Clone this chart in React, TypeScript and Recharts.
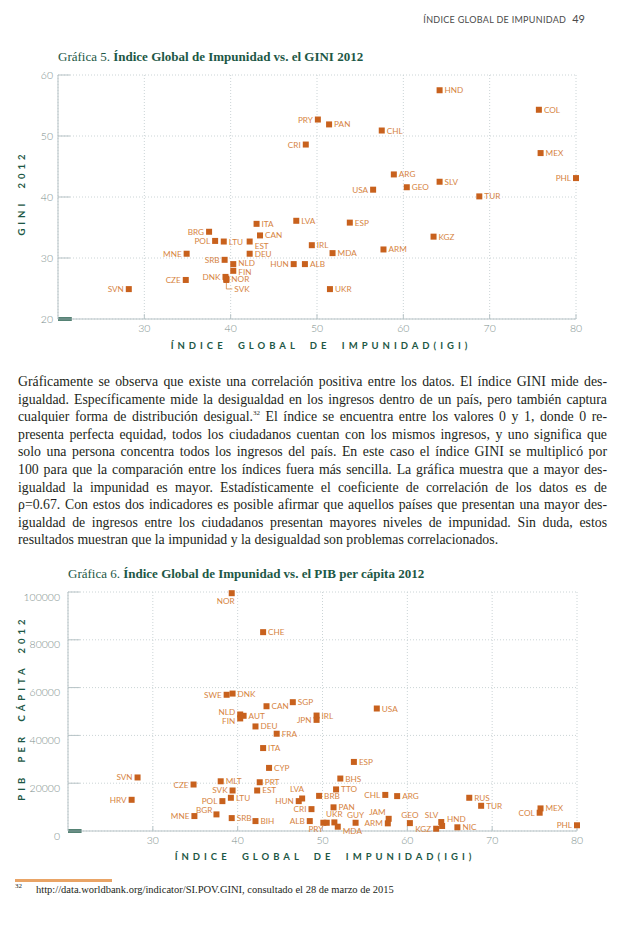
import React from "react";
import { ScatterChart, Scatter, XAxis, YAxis, CartesianGrid, ReferenceLine } from "recharts";

const GREEN = "#1d5846";
const ORANGE = "#c8611d";
const LABEL_ORANGE = "#d6843f";
const TICK_GRAY = "#7a8d8a";
const AXIS_GRAY = "#b7c3c6";
const GRID_GRAY = "#cbd4d6";

// Gráfica 5: IGI vs GINI 2012
const giniCodes = ["HND", "COL", "PRY", "PAN", "CHL", "CRI", "MEX", "PHL", "ARG", "SLV", "GEO", "USA", "TUR", "LVA", "ESP", "ITA", "BRG", "CAN", "KGZ", "POL", "LTU", "EST", "IRL", "ARM", "MDA", "MNE", "DEU", "SRB", "NLD", "HUN", "ALB", "FIN", "DNK", "NOR", "SVK", "CZE", "SVN", "UKR"];
const giniIgi = [64.2, 75.7, 50.1, 51.4, 57.5, 48.7, 75.9, 80.0, 58.9, 64.2, 60.4, 56.5, 68.8, 47.6, 53.8, 43.0, 37.5, 43.4, 63.5, 38.2, 39.2, 42.2, 49.4, 57.7, 51.8, 34.9, 42.2, 39.3, 40.3, 47.3, 48.6, 40.3, 39.4, 39.5, 39.5, 34.8, 28.2, 51.5];
const giniValues = [57.5, 54.3, 52.7, 51.9, 50.9, 48.6, 47.2, 43.1, 43.7, 42.5, 41.6, 41.2, 40.1, 36.1, 35.8, 35.6, 34.3, 33.7, 33.5, 32.8, 32.7, 32.7, 32.1, 31.4, 30.8, 30.7, 30.7, 29.7, 29.0, 29.0, 29.0, 27.9, 26.9, 26.6, 26.4, 26.4, 24.9, 24.9];
const giniXTicks = [30, 40, 50, 60, 70, 80];
const giniYTicks = [20, 30, 40, 50, 60];

// Gráfica 6: IGI vs PIB per cápita 2012
const pibCodes = ["NOR", "CHE", "DNK", "SWE", "SGP", "CAN", "USA", "NLD", "IRL", "AUT", "FIN", "JPN", "DEU", "FRA", "ITA", "ESP", "CYP", "SVN", "BHS", "MLT", "PRT", "CZE", "TTO", "SVK", "EST", "CHL", "BRB", "ARG", "RUS", "LTU", "LVA", "HRV", "POL", "HUN", "TUR", "PAN", "MEX", "CRI", "COL", "BGR", "MNE", "SRB", "JAM", "GUY", "UKR", "GEO", "SLV", "HND", "ALB", "BIH", "PRY", "", "MDA", "ARM", "KGZ", "NIC", "PHL"];
const pibIgi = [39.3, 43.0, 39.4, 38.7, 46.5, 43.4, 56.4, 40.3, 49.3, 40.7, 40.3, 49.3, 42.1, 44.6, 43.0, 53.7, 43.7, 28.2, 52.1, 38.0, 42.6, 34.8, 51.6, 39.4, 42.3, 57.4, 49.6, 58.8, 67.3, 39.2, 47.6, 27.5, 38.2, 47.2, 68.7, 51.3, 75.7, 48.7, 75.6, 37.5, 34.9, 39.3, 57.8, 53.9, 51.4, 60.3, 64.0, 64.1, 48.5, 42.1, 50.1, 50.5, 51.8, 57.7, 63.4, 65.9, 80.0];
const pibValues = [99500, 83200, 57500, 57000, 53900, 52200, 51250, 48750, 48300, 48200, 47100, 46500, 43750, 40700, 34700, 28900, 26400, 22400, 21950, 20800, 20400, 19450, 17400, 16950, 16950, 15100, 14700, 14600, 13900, 13900, 13600, 13050, 12500, 12500, 10550, 9900, 9450, 9150, 7650, 6950, 6250, 5400, 5100, 3450, 3600, 3300, 3750, 2100, 4150, 4150, 3450, 3450, 1800, 3200, 950, 1550, 2400];
const pibXTicks = [30, 40, 50, 60, 70, 80];
const pibYTicks = [0, 20000, 40000, 60000, 80000, 100000];

// where each country label sits relative to its marker (default: right)
const giniLabelSide: Record<string, string> = {
  PRY: "l", CRI: "l", PHL: "l", USA: "l", BRG: "l", POL: "l", MNE: "l", SRB: "l",
  HUN: "l", DNK: "l", CZE: "l", SVN: "l", EST: "rb", SVK: "leader", NLD: "ru", FIN: "rd",
};
const pibLabelSide: Record<string, string> = {
  NOR: "bl", SWE: "l", NLD: "lu", FIN: "lb", JPN: "l", SVN: "l", CZE: "l", SVK: "l",
  CHL: "l", LVA: "al2", HRV: "l", POL: "l", HUN: "l", CRI: "l", COL: "l", BGR: "al3",
  MNE: "l", JAM: "al", GUY: "a", UKR: "a", GEO: "a", SLV: "al", HND: "ar", ALB: "l",
  PRY: "bl2", MDA: "rb", ARM: "l", KGZ: "l", PHL: "l",
};

const giniData = giniCodes.map((code, i) => ({ code, igi: giniIgi[i], value: giniValues[i] }));
const pibData = pibCodes.map((code, i) => ({ code, igi: pibIgi[i], value: pibValues[i] }));

const labelPlacement = (side: string) => {
  switch (side) {
    case "l": return { dx: -5, dy: 3, anchor: "end" };
    case "lu": return { dx: -5, dy: 1, anchor: "end" };
    case "lb": return { dx: -5, dy: 6, anchor: "end" };
    case "ru": return { dx: 5, dy: 2, anchor: "start" };
    case "rd": return { dx: 5, dy: 4, anchor: "start" };
    case "rb": return { dx: 5, dy: 7, anchor: "start" };
    case "a": return { dx: 0, dy: -5, anchor: "middle" };
    case "al": return { dx: -3, dy: -4, anchor: "end" };
    case "al2": return { dx: 2, dy: -6, anchor: "end" };
    case "al3": return { dx: -4, dy: -1, anchor: "end" };
    case "ar": return { dx: 5, dy: -4, anchor: "start" };
    case "bl": return { dx: 3, dy: 11, anchor: "end" };
    case "bl2": return { dx: 0, dy: 9, anchor: "end" };
    default: return { dx: 5, dy: 3, anchor: "start" };
  }
};

const makeMarker = (sides: Record<string, string>) => (props: any) => {
  const { cx, cy, payload } = props;
  const side = sides[payload.code] || "r";
  const textStyle = { fontSize: 8.2, fill: LABEL_ORANGE, fontFamily: "Lato, 'Open Sans', sans-serif" };
  if (side === "leader") {
    return (
      <g>
        <rect x={cx - 3} y={cy - 3} width={6} height={6} fill={ORANGE} />
        <path d={`M${cx},${cy + 3} L${cx},${cy + 9} L${cx + 6},${cy + 9}`} stroke={LABEL_ORANGE} strokeWidth={0.8} fill="none" />
        <text x={cx + 8} y={cy + 12} style={textStyle}>{payload.code}</text>
      </g>
    );
  }
  const p = labelPlacement(side);
  return (
    <g>
      <rect x={cx - 3} y={cy - 3} width={6} height={6} fill={ORANGE} />
      {payload.code ? (
        <text x={cx + p.dx} y={cy + p.dy} textAnchor={p.anchor as any} style={textStyle}>{payload.code}</text>
      ) : null}
    </g>
  );
};

const XTick = ({ x, y, payload }: any) => (
  <text x={x} y={y} dy="0.75em" textAnchor="middle" fill={TICK_GRAY} fontSize={10.5} fontFamily="Lato, sans-serif" fontWeight={300}>
    {payload.value}
  </text>
);

const makeYTick = (shift: number) => ({ x, y, payload }: any) => (
  <text x={x} y={y + shift} dy="0.35em" textAnchor="end" fill={TICK_GRAY} fontSize={10.5} fontFamily="Lato, sans-serif" fontWeight={300}>
    {payload.value}
  </text>
);

function GiniChart() {
  return (
    <ScatterChart width={626} height={340} margin={{ top: 75, right: 50, bottom: 1, left: 8 }}>
      <CartesianGrid stroke={GRID_GRAY} strokeDasharray="1 2" />
      <XAxis type="number" dataKey="igi" domain={[20, 80]} ticks={giniXTicks} height={20}
        tickLine={false} tickSize={0} tickMargin={5} axisLine={{ stroke: AXIS_GRAY }} tick={<XTick />} />
      <YAxis type="number" dataKey="value" domain={[20, 60]} ticks={giniYTicks} width={50}
        tickLine={false} tickSize={0} tickMargin={5} axisLine={{ stroke: AXIS_GRAY }} tick={makeYTick(0)} />
      {giniYTicks.slice(1).map((v) => (
        <ReferenceLine key={"y" + v} segment={[{ x: 20, y: v }, { x: 21.4, y: v }]} stroke={AXIS_GRAY} />
      ))}
      {giniXTicks.map((v) => (
        <ReferenceLine key={"x" + v} segment={[{ x: v, y: 20 }, { x: v, y: 20.8 }]} stroke={AXIS_GRAY} />
      ))}
      <ReferenceLine segment={[{ x: 20, y: 20 }, { x: 21.6, y: 20 }]} stroke={GREEN} strokeWidth={3.5} />
      <Scatter data={giniData} shape={makeMarker(giniLabelSide)} isAnimationActive={false} />
    </ScatterChart>
  );
}

function PibChart() {
  return (
    <ScatterChart width={626} height={320} margin={{ top: 52, right: 49, bottom: 9, left: 8 }}>
      <CartesianGrid stroke={GRID_GRAY} strokeDasharray="1 2" />
      <XAxis type="number" dataKey="igi" domain={[20, 80]} ticks={pibXTicks} height={20}
        tickLine={false} tickSize={0} tickMargin={5} axisLine={{ stroke: AXIS_GRAY }} tick={<XTick />} />
      <YAxis type="number" dataKey="value" domain={[0, 100000]} ticks={pibYTicks} width={60}
        tickLine={false} tickSize={0} tickMargin={8} axisLine={{ stroke: AXIS_GRAY }} tick={makeYTick(5)} />
      {pibYTicks.slice(1).map((v) => (
        <ReferenceLine key={"y" + v} segment={[{ x: 20, y: v }, { x: 21.4, y: v }]} stroke={AXIS_GRAY} />
      ))}
      {pibXTicks.map((v) => (
        <ReferenceLine key={"x" + v} segment={[{ x: v, y: 0 }, { x: v, y: 2000 }]} stroke={AXIS_GRAY} />
      ))}
      <ReferenceLine segment={[{ x: 20, y: 0 }, { x: 21.6, y: 0 }]} stroke={GREEN} strokeWidth={3.5} />
      <Scatter data={pibData} shape={makeMarker(pibLabelSide)} isAnimationActive={false} />
    </ScatterChart>
  );
}

const spaced = {
  fontFamily: "Lato, 'Open Sans', sans-serif",
  fontWeight: 700,
  fontSize: 9.5,
  color: GREEN,
  letterSpacing: 4,
  wordSpacing: 5,
  whiteSpace: "nowrap" as const,
  textAlign: "center" as const,
  lineHeight: "12px",
};

function AxisTitle({ text, cx, cy, vertical }: { text: string; cx: number; cy: number; vertical?: boolean }) {
  const w = 360;
  return (
    <div style={{
      ...spaced, position: "absolute", left: cx - w / 2, top: cy - 6, width: w, height: 12,
      transform: vertical ? "rotate(-90deg)" : undefined, paddingLeft: 4, boxSizing: "border-box",
    }}>{text}</div>
  );
}

function ChartTitle({ left, top, num, text }: { left: number; top: number; num: string; text: string }) {
  return (
    <div style={{ position: "absolute", left, top, fontSize: 13, lineHeight: "16px", color: GREEN, whiteSpace: "nowrap", fontFamily: "'Liberation Serif', serif" }}>
      {num} <b>{text}</b>
    </div>
  );
}

const bodyLines = [
  "Gráficamente se observa que existe una correlación positiva entre los datos. El índice GINI mide des-",
  "igualdad. Específicamente mide la desigualdad en los ingresos dentro de un país, pero también captura",
  "cualquier forma de distribución desigual.§ El índice se encuentra entre los valores 0 y 1, donde 0 re-",
  "presenta perfecta equidad, todos los ciudadanos cuentan con los mismos ingresos, y uno significa que",
  "solo una persona concentra todos los ingresos del país. En este caso el índice GINI se multiplicó por",
  "100 para que la comparación entre los índices fuera más sencilla. La gráfica muestra que a mayor des-",
  "igualdad la impunidad es mayor. Estadísticamente el coeficiente de correlación de los datos es de",
  "ρ=0.67. Con estos dos indicadores es posible afirmar que aquellos países que presentan una mayor des-",
  "igualdad de ingresos entre los ciudadanos presentan mayores niveles de impunidad. Sin duda, estos",
  "resultados muestran que la impunidad y la desigualdad son problemas correlacionados.",
];

function BodyText() {
  return (
    <div style={{ position: "absolute", left: 18, top: 373, width: 589, fontFamily: "'Liberation Serif', serif", fontSize: 13.8, lineHeight: "17.6px", color: "#231f20" }}>
      {bodyLines.map((line, i) => {
        const parts = line.split("§");
        return (
          <div key={i} style={{ whiteSpace: "nowrap", textAlign: "justify", textAlignLast: i === bodyLines.length - 1 ? "left" : "justify", height: 17.6 }}>
            {parts[0]}
            {parts.length > 1 ? <sup style={{ fontSize: 7, lineHeight: 0 }}>32</sup> : null}
            {parts[1]}
          </div>
        );
      })}
    </div>
  );
}

export default function App() {
  return (
    <div style={{ position: "absolute", left: 0, top: 0, width: 626, height: 934, background: "#fff", overflow: "hidden" }}>
      <div style={{ position: "absolute", right: 41, top: 7, whiteSpace: "nowrap", color: "#4a4a4a", fontFamily: "Lato, sans-serif" }}>
        <span style={{ fontSize: 9, letterSpacing: 0.3 }}>ÍNDICE GLOBAL DE IMPUNIDAD</span>
        <span style={{ fontSize: 11, marginLeft: 6 }}>49</span>
      </div>

      <div style={{ position: "absolute", left: 0, top: 0 }}>
        <GiniChart />
      </div>
      <ChartTitle left={58} top={49} num="Gráfica 5." text="Índice Global de Impunidad vs. el GINI 2012" />
      <AxisTitle text="GINI 2012" cx={22} cy={195} vertical />
      <AxisTitle text="ÍNDICE GLOBAL DE IMPUNIDAD(IGI)" cx={319} cy={346} />

      <BodyText />

      <div style={{ position: "absolute", left: 0, top: 540 }}>
        <PibChart />
      </div>
      <ChartTitle left={68} top={566} num="Gráfica 6." text="Índice Global de Impunidad vs. el PIB per cápita 2012" />
      <AxisTitle text="PIB PER CÁPITA 2012" cx={22} cy={710} vertical />
      <AxisTitle text="ÍNDICE GLOBAL DE IMPUNIDAD(IGI)" cx={323} cy={857} />

      <div style={{ position: "absolute", left: 15, top: 879, width: 97, height: 2.5, background: "#e9a466" }} />
      <div style={{ position: "absolute", left: 15, top: 882, fontFamily: "'Liberation Serif', serif", fontSize: 7, color: "#231f20" }}>32</div>
      <div style={{ position: "absolute", left: 36, top: 884, fontFamily: "'Liberation Serif', serif", fontSize: 10.5, color: "#231f20", whiteSpace: "nowrap" }}>
        http://data.worldbank.org/indicator/SI.POV.GINI, consultado el 28 de marzo de 2015
      </div>
    </div>
  );
}
